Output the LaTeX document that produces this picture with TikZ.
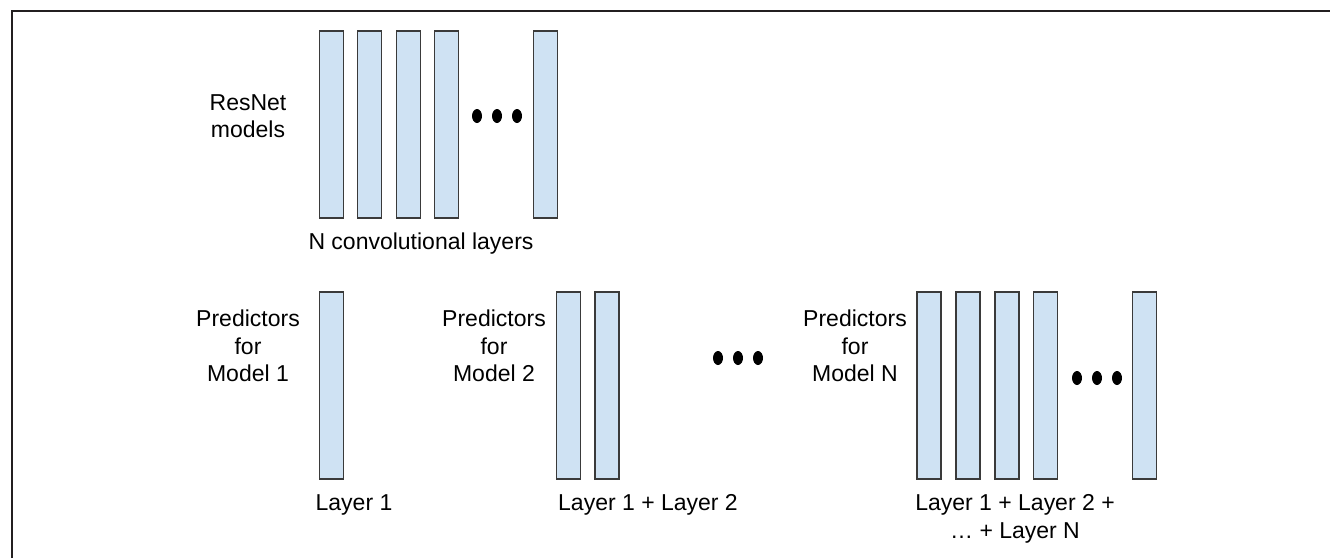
\documentclass[tikz,border=0pt]{standalone}
\usepackage{fontspec}
\setmainfont{Liberation Sans}
\definecolor{layerfill}{HTML}{CFE2F3}
\definecolor{layerline}{HTML}{3A3A3A}
\definecolor{framegray}{HTML}{231F20}
\tikzset{
  layerbox/.style={draw=layerline, fill=layerfill, line width=0.75pt, inner sep=0pt,
    minimum width=11.8pt, minimum height=93.5pt},
  caption/.style={align=center, inner sep=0pt, font=\fontsize{11.5}{13.8}\selectfont},
}
\begin{document}
\begin{tikzpicture}[x=0.5pt, y=-0.5pt]
\useasboundingbox (0,0) rectangle (1330,558);
% open frame, left and top only
\draw[framegray, line width=1pt] (12,558) -- (12,10.5) -- (1330,10.5);

% ResNet with N layers
\node[caption] (resnet) at (248,116) {ResNet\\models};
\foreach \xc [count=\i] in {331.5,369.5,408.5,446.5,545.5}
  \node[layerbox] (res\i) at (\xc,124.5) {};
\foreach \xd in {477,497,517}
  \fill (\xd,116) ellipse (5 and 7);
\node[caption] (nconv) at (421,244) {N convolutional layers};

% predictors for model 1
\node[caption] (pred1) at (248,346) {Predictors\\for\\Model 1};
\node[layerbox] (one1) at (331.5,385.5) {};
\node[caption] (lay1) at (354,505) {Layer 1};

% predictors for model 2
\node[caption] (pred2) at (494,346) {Predictors\\for\\Model 2};
\node[layerbox] (two1) at (568.5,385.5) {};
\node[layerbox] (two2) at (607,385.5) {};
\node[caption] (lay2) at (648,505) {Layer 1 + Layer 2};

\foreach \xd in {718,738,758}
  \fill (\xd,358) ellipse (5 and 7);

% predictors for model N
\node[caption] (predN) at (855,346) {Predictors\\for\\Model N};
\foreach \xc [count=\i] in {929,968,1007,1045.5,1144.5}
  \node[layerbox] (all\i) at (\xc,385.5) {};
\foreach \xd in {1077,1097,1117}
  \fill (\xd,378) ellipse (5 and 7);
\node[caption] (layN) at (1015,519) {Layer 1 + Layer 2 +\\… + Layer N};
\end{tikzpicture}
\end{document}
